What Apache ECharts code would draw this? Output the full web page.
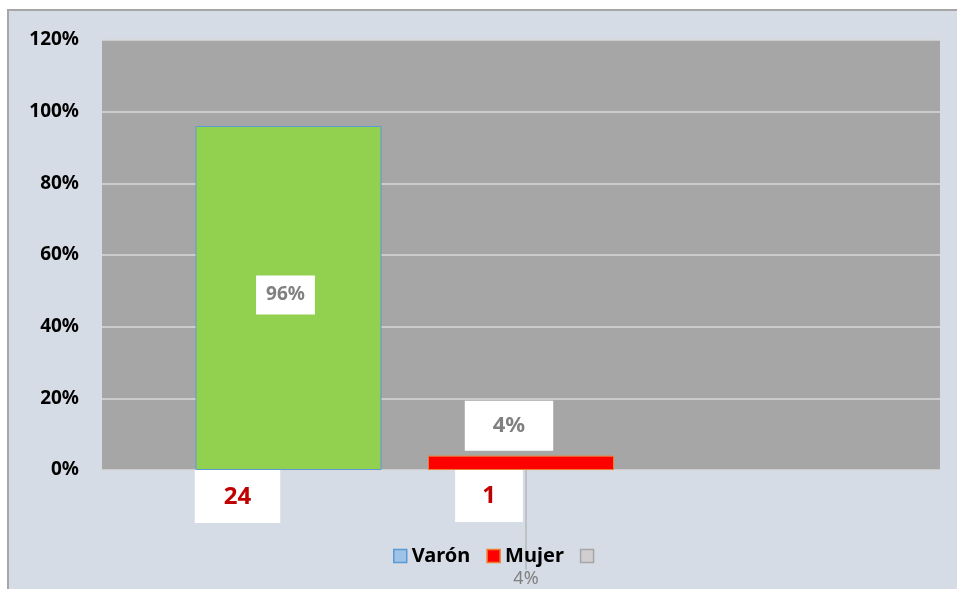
<!DOCTYPE html>
<html lang="es">
<head>
    <meta charset="utf-8">
    <title>Varón / Mujer</title>
    <style>
        html, body { margin: 0; padding: 0; background: #ffffff; }
        #id-frame {
            position: absolute;
            left: 7px;
            top: 9px;
            width: 952px;
            height: 582px;
            background: #d6dce5;
            border-left: 2px solid #a6a6a6;
            border-top: 2px solid #a6a6a6;
        }
        #id-main-area {
            position: absolute;
            left: 0;
            top: 0;
            width: 957px;
            height: 589px;
        }
    </style>
</head>
<body>
    <div id="id-frame"></div>
    <div id="id-main-area"></div>
    <script src="https://cdn.jsdelivr.net/npm/echarts@6/dist/echarts.min.js"></script>
    <script>
        // datos
        var categories = ['']
        var seriesNames = ['Varón', 'Mujer', ' ']
        var percentValues = [0.96, 0.04, null]
        var counts = [24, 1, null]
        var yTicks = [0, 0.2, 0.4, 0.6, 0.8, 1.0, 1.2]

        var font = 'Noto Sans'

        var pct = (v) => Math.round(v * 100) + '%'

        var whiteBox = (color, size, padding) => {
            return {
                show: true,
                color: color,
                fontFamily: font,
                fontWeight: 'bold',
                fontSize: size,
                backgroundColor: '#ffffff',
                padding: padding,
            }
        }

        var buildSeries = () => {
            var s = []
            // Varón
            s.push({
                name: 'Varón-n', type: 'bar', stack: 'v', barWidth: 186, barGap: '25%',
                data: [0],
                itemStyle: { color: 'transparent' },
                label: Object.assign(whiteBox('#c00000', 24, [15, 29, 14, 29]), {
                    position: 'bottom', distance: 0, offset: [-51, 0],
                    formatter: () => String(counts[0]),
                }),
                silent: true,
            })
            s.push({
                name: seriesNames[0], type: 'bar', stack: 'v', barWidth: 186, barGap: '25%',
                data: [percentValues[0]],
                itemStyle: { color: '#92d050', borderColor: '#5b9bd5', borderWidth: 1 },
                label: Object.assign(whiteBox('#808080', 19, [10, 10]), {
                    position: 'inside', offset: [-3, -3],
                    formatter: (p) => pct(p.value),
                }),
            })
            // Mujer
            s.push({
                name: 'Mujer-n', type: 'bar', stack: 'm', barWidth: 186, barGap: '25%',
                data: [0],
                itemStyle: { color: 'transparent' },
                label: Object.assign(whiteBox('#c00000', 24, [14, 27]), {
                    position: 'bottom', distance: 0, offset: [-32, 0],
                    formatter: () => String(counts[1]),
                }),
                silent: true,
            })
            s.push({
                name: seriesNames[1], type: 'bar', stack: 'm', barWidth: 186, barGap: '25%',
                data: [percentValues[1]],
                itemStyle: { color: '#ff0000', borderColor: '#ed7d31', borderWidth: 1 },
                label: Object.assign(whiteBox('#808080', 22, [14, 28]), {
                    position: 'top', distance: 5, offset: [-12, 0],
                    formatter: (p) => pct(p.value),
                }),
            })
            s.push({
                name: 'Mujer-p', type: 'bar', stack: 'm', barWidth: 186, barGap: '25%',
                data: [0],
                itemStyle: { color: 'transparent' },
                label: {
                    show: true, position: 'top', distance: 0,
                    color: '#808080', fontFamily: font, fontSize: 18,
                    formatter: () => pct(percentValues[1]),
                },
                labelLayout: { dx: 5, dy: 132 },
                labelLine: { show: true, lineStyle: { color: '#a6a6a6', width: 1 } },
                silent: true,
            })
            // tercera serie vacía
            s.push({
                name: seriesNames[2], type: 'bar', barWidth: 186, barGap: '25%',
                data: [percentValues[2]],
                itemStyle: { color: '#d0cece' },
            })
            return s
        }

        var showChart = () => {
            var element = document.querySelector('#id-main-area')
            var myChart = echarts.init(element, null, { renderer: 'canvas' })
            var option = {
                backgroundColor: 'transparent',
                animation: false,
                grid: {
                    left: 102, right: 17, top: 40, bottom: 119,
                    show: true, backgroundColor: '#a6a6a6', borderWidth: 0,
                },
                legend: {
                    left: 388, top: 541,
                    itemWidth: 13, itemHeight: 13, itemGap: 16,
                    icon: 'rect',
                    textStyle: { color: '#000000', fontFamily: font, fontWeight: 'bold', fontSize: 20 },
                    data: [
                        { name: seriesNames[0], itemStyle: { color: '#9dc3e6', borderColor: '#5b9bd5', borderWidth: 1.5 } },
                        { name: seriesNames[1], itemStyle: { color: '#ff0000', borderColor: '#ed7d31', borderWidth: 1.5 } },
                        { name: seriesNames[2], itemStyle: { color: '#d0cece', borderColor: '#a6a6a6', borderWidth: 1.5 } },
                    ],
                },
                xAxis: {
                    type: 'category',
                    data: categories,
                    axisLine: { show: false },
                    axisTick: { show: false },
                    axisLabel: { show: false },
                },
                yAxis: {
                    type: 'value',
                    min: yTicks[0],
                    max: yTicks[yTicks.length - 1],
                    interval: 0.2,
                    axisLine: { show: false },
                    axisTick: { show: false },
                    axisLabel: {
                        margin: 23,
                        color: '#000000', fontFamily: font, fontWeight: 'bold', fontSize: 19,
                        formatter: (v) => pct(v),
                    },
                    splitLine: { lineStyle: { color: '#d9d9d9', width: 1.5 } },
                },
                series: buildSeries(),
            }
            myChart.setOption(option, true)
        }

        var __main = () => {
            showChart()
        }

        __main()
    </script>
</body>
</html>
